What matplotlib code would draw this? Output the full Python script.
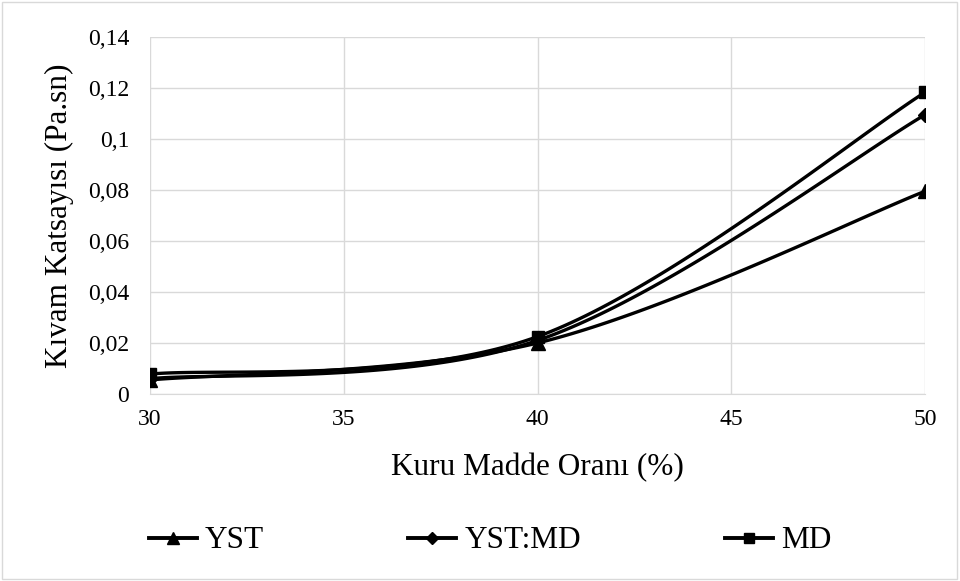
import matplotlib
matplotlib.use("Agg")
import matplotlib.pyplot as plt
import numpy as np
from matplotlib.ticker import FuncFormatter, MultipleLocator

plt.rcParams['font.family'] = ['Liberation Serif', 'DejaVu Serif']

x = [30, 40, 50]
yst = [0.0055, 0.0200, 0.0795]
yst_md = [0.0060, 0.0210, 0.1095]
md = [0.0078, 0.0225, 0.1183]

series = [("YST", yst, "^", 9.5), ("YST:MD", yst_md, "D", 7), ("MD", md, "s", 9)]


def smooth(xs, ys, n=60):
    # excel-like smoothed line (bezier through the points)
    xs = np.asarray(xs, float)
    ys = np.asarray(ys, float)
    pts = np.column_stack([xs, ys])
    out = []
    for i in range(len(pts) - 1):
        p0 = pts[max(i - 1, 0)]
        p1 = pts[i]
        p2 = pts[i + 1]
        p3 = pts[min(i + 2, len(pts) - 1)]
        c1 = p1 + (p2 - p0) / 6
        c2 = p2 - (p3 - p1) / 6
        t = np.linspace(0, 1, n)[:, None]
        seg = ((1 - t) ** 3 * p1 + 3 * (1 - t) ** 2 * t * c1
               + 3 * (1 - t) * t ** 2 * c2 + t ** 3 * p2)
        out.append(seg if i == 0 else seg[1:])
    out = np.vstack(out)
    return out[:, 0], out[:, 1]


fig = plt.figure(figsize=(9.6, 5.81), dpi=100)
ax = fig.add_axes([150 / 960, 1 - 394 / 581, 775 / 960, 357 / 581])

for name, ys, mk, ms in series:
    sx, sy = smooth(x, ys)
    ax.plot(sx, sy, color="black", lw=2.4, solid_capstyle="round", zorder=3)
    ax.plot(x, ys, linestyle="none", marker=mk, color="black", ms=ms, zorder=4)
    ax.plot([], [], color="black", lw=2.8, marker=mk, ms=ms * 0.85, label=name)

ax.set_xlim(30, 50)
ax.set_ylim(0, 0.14)
ax.xaxis.set_major_locator(MultipleLocator(5))
ax.yaxis.set_major_locator(MultipleLocator(0.02))
ax.yaxis.set_major_formatter(FuncFormatter(
    lambda v, p: "0" if abs(v) < 1e-9 else ("%g" % round(v, 2)).replace(".", ",")))
ax.grid(True, color="#d9d9d9", lw=1)
ax.set_axisbelow(True)
for s in ["top", "right", "left"]:
    ax.spines[s].set_visible(False)
ax.spines["bottom"].set_color("#d9d9d9")
ax.tick_params(length=0, labelsize=17, labelcolor="black")
ax.tick_params(axis="x", pad=11)
ax.tick_params(axis="y", pad=15)

ax.set_xlabel("Kuru Madde Oranı (%)", fontsize=22.5, labelpad=16)
ax.set_ylabel("Kıvam Katsayısı (Pa.sn)", fontsize=22.5, labelpad=10)

fig.legend(loc="center", bbox_to_anchor=(490 / 960, 1 - 541 / 581), ncol=3, frameon=False,
           fontsize=22.5, handlelength=1.55, handletextpad=0.25, columnspacing=4.6)

fig.add_artist(plt.Rectangle((0.002, 0.003), 0.995, 0.993, transform=fig.transFigure,
                             fill=False, edgecolor="#d9d9d9", lw=1))

fig.savefig("out.png", dpi=100)
